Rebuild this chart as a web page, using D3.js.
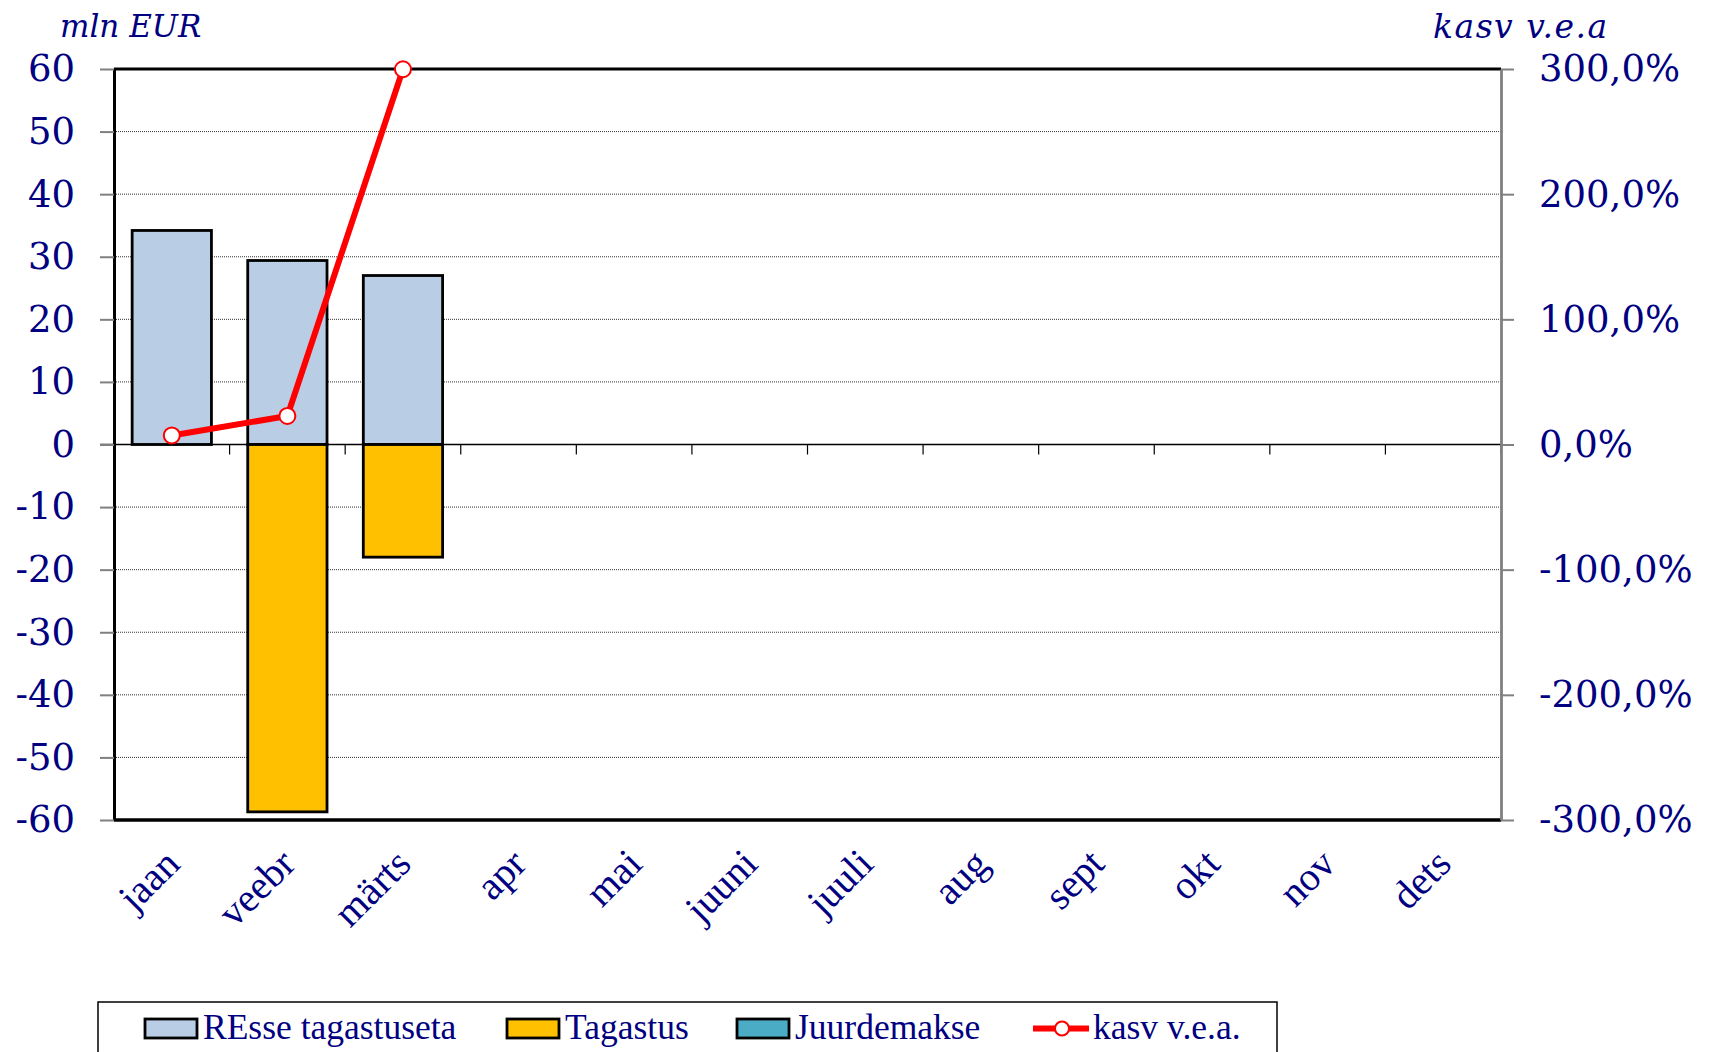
<!DOCTYPE html>
<meta charset="utf-8">
<html>
<script src="https://d3js.org/d3.v7.min.js"></script>
<style>
    body { margin: 0; background: #fff; }
    text { fill: #000080; }
</style>

<body>
    <div id="chart"></div>
    <script>

        // Data
        var months = ["jaan", "veebr", "märts", "apr", "mai", "juuni", "juuli", "aug", "sept", "okt", "nov", "dets"];
        var resseTagastuseta = [34.2, 29.4, 27.0, 0, 0, 0, 0, 0, 0, 0, 0, 0];
        var tagastus = [0, -58.7, -18.0, 0, 0, 0, 0, 0, 0, 0, 0, 0];
        var juurdemakse = [0, 0, 0, 0, 0, 0, 0, 0, 0, 0, 0, 0];
        var kasv = [7.2, 22.8, 299.8];   // percent, only first three months
        var leftTicks = [-60, -50, -40, -30, -20, -10, 0, 10, 20, 30, 40, 50, 60];
        var rightTicks = [-3, -2, -1, 0, 1, 2, 3];
        var seriesNames = ["REsse tagastuseta", "Tagastus", "Juurdemakse", "kasv v.e.a."];
        var seriesColors = ["#B9CDE5", "#FFC000", "#4BACC6", "#FF0000"];

        // Plot area
        var margin = { top: 69, right: 212, bottom: 232, left: 114 },
            W = 1713, H = 1052,
            width = W - margin.left - margin.right,
            height = H - margin.top - margin.bottom;

        var svg = d3.select("#chart")
            .append("svg")
            .attr("width", W)
            .attr("height", H);

        var g = svg.append("g")
            .attr("transform", "translate(" + margin.left + "," + margin.top + ")");

        var locale = d3.formatLocale({ decimal: ",", thousands: " ", grouping: [3], currency: ["", "€"], minus: "-" });
        var fmtLeft = locale.format("d");
        var fmtRight = locale.format(".1%");

        // Scales
        var x = d3.scaleBand()
            .domain(months)
            .range([0, width])
            .paddingInner(0.314)
            .paddingOuter(0.157);

        var y = d3.scaleLinear().domain([-60, 60]).range([height, 0]);
        var y2 = d3.scaleLinear().domain([-3, 3]).range([height, 0]);

        // Gridlines (dotted)
        g.append("g")
            .selectAll("line")
            .data(leftTicks.filter(function (d) { return d !== 0 && Math.abs(d) !== 60; }))
            .enter().append("line")
            .attr("x1", 0).attr("x2", width)
            .attr("y1", function (d) { return y(d); })
            .attr("y2", function (d) { return y(d); })
            .attr("stroke", "#333")
            .attr("stroke-width", 1)
            .attr("stroke-dasharray", "1,1");

        // Stacked bars (diverging)
        var table = months.map(function (m, i) {
            return { month: m, a: resseTagastuseta[i], b: tagastus[i], c: juurdemakse[i] };
        });
        var stack = d3.stack().keys(["a", "b", "c"]).offset(d3.stackOffsetDiverging);
        var layers = stack(table);

        g.selectAll(".layer")
            .data(layers)
            .enter().append("g")
            .attr("class", "layer")
            .attr("fill", function (d, i) { return seriesColors[i]; })
            .selectAll("rect")
            .data(function (d) { return d.filter(function (p) { return p[1] - p[0] !== 0; }); })
            .enter().append("rect")
            .attr("x", function (d) { return x(d.data.month); })
            .attr("width", x.bandwidth())
            .attr("y", function (d) { return y(d[1]); })
            .attr("height", function (d) { return y(d[0]) - y(d[1]); })
            .attr("stroke", "#000")
            .attr("stroke-width", 2.8);

        // Zero line with category ticks
        g.append("line")
            .attr("x1", -14).attr("x2", width)
            .attr("y1", y(0)).attr("y2", y(0))
            .attr("stroke", "#000").attr("stroke-width", 1.5);

        g.append("g")
            .selectAll("line")
            .data(months)
            .enter().append("line")
            .attr("x1", function (d, i) { return (i + 1) * x.step(); })
            .attr("x2", function (d, i) { return (i + 1) * x.step(); })
            .attr("y1", y(0)).attr("y2", y(0) + 10)
            .attr("stroke", "#000").attr("stroke-width", 1.2);

        // Frame top / bottom
        g.append("line")
            .attr("x1", 0).attr("x2", width).attr("y1", 0).attr("y2", 0)
            .attr("stroke", "#000").attr("stroke-width", 2.8);
        g.append("line")
            .attr("x1", 0).attr("x2", width).attr("y1", height).attr("y2", height)
            .attr("stroke", "#000").attr("stroke-width", 3.5);

        // Left axis
        var leftAxis = g.append("g")
            .call(d3.axisLeft(y).tickValues(leftTicks).tickFormat(fmtLeft).tickSize(14).tickSizeOuter(0).tickPadding(25));
        leftAxis.select(".domain").attr("stroke", "#000").attr("stroke-width", 3);
        leftAxis.selectAll(".tick line").attr("stroke", "#808080").attr("stroke-width", 2);
        leftAxis.selectAll(".tick text")
            .style("font-family", "'DejaVu Serif', serif")
            .style("font-size", "37px")
            .attr("fill", "#000080");

        // Right axis
        var rightAxis = g.append("g")
            .attr("transform", "translate(" + width + ",0)")
            .call(d3.axisRight(y2).tickValues(rightTicks).tickFormat(fmtRight).tickSize(13).tickSizeOuter(0).tickPadding(25));
        rightAxis.select(".domain").attr("stroke", "#808080").attr("stroke-width", 2.8);
        rightAxis.selectAll(".tick line").attr("stroke", "#808080").attr("stroke-width", 2);
        rightAxis.selectAll(".tick text")
            .style("font-family", "'DejaVu Serif', serif")
            .style("font-size", "37px")
            .attr("fill", "#000080");

        // X axis labels (rotated)
        var xAxis = g.append("g")
            .attr("transform", "translate(0," + height + ")")
            .call(d3.axisBottom(x).tickSize(0));
        xAxis.select(".domain").remove();
        xAxis.selectAll(".tick text")
            .attr("y", null).attr("dy", null)
            .attr("transform", "translate(10,46) rotate(-45)")
            .style("text-anchor", "end")
            .style("font-family", "'Liberation Serif', serif")
            .style("font-size", "40px")
            .attr("fill", "#000080");

        // kasv line
        var pts = kasv.map(function (v, i) { return { month: months[i], v: v / 100 }; });
        var line = d3.line()
            .x(function (d) { return x(d.month) + x.bandwidth() / 2; })
            .y(function (d) { return y2(d.v); });
        g.append("path")
            .datum(pts)
            .attr("fill", "none")
            .attr("stroke", seriesColors[3])
            .attr("stroke-width", 6)
            .attr("stroke-linejoin", "round")
            .attr("d", line);
        g.selectAll(".dot")
            .data(pts)
            .enter().append("circle")
            .attr("class", "dot")
            .attr("cx", function (d) { return x(d.month) + x.bandwidth() / 2; })
            .attr("cy", function (d) { return y2(d.v); })
            .attr("r", 8)
            .attr("fill", "#fff")
            .attr("stroke", seriesColors[3])
            .attr("stroke-width", 2);

        // Axis titles
        svg.append("text")
            .attr("x", 60).attr("y", 37)
            .style("font-family", "'DejaVu Serif', serif")
            .style("font-style", "italic")
            .style("font-size", "31px")
            .text("mln EUR");
        svg.append("text")
            .attr("x", 1433).attr("y", 38)
            .style("font-family", "'DejaVu Serif', serif")
            .style("font-style", "italic")
            .style("font-size", "33px")
            .style("letter-spacing", "1.5px")
            .text("kasv v.e.a");

        // Legend
        var legend = svg.append("g");
        legend.append("rect")
            .attr("x", 98).attr("y", 1002)
            .attr("width", 1179).attr("height", 80)
            .attr("fill", "#fff")
            .attr("stroke", "#000").attr("stroke-width", 1.5);

        var legendX = [145, 507, 737, 1033];
        var items = legend.selectAll(".item")
            .data(seriesNames)
            .enter().append("g")
            .attr("class", "item")
            .attr("transform", function (d, i) { return "translate(" + legendX[i] + ",1019)"; });

        items.filter(function (d, i) { return i < 3; })
            .append("rect")
            .attr("width", 52).attr("height", 19)
            .attr("fill", function (d, i) { return seriesColors[i]; })
            .attr("stroke", "#000").attr("stroke-width", 2.8);

        var lineItem = items.filter(function (d, i) { return i === 3; });
        lineItem.append("line")
            .attr("x1", 0).attr("x2", 56).attr("y1", 9.5).attr("y2", 9.5)
            .attr("stroke", seriesColors[3]).attr("stroke-width", 6);
        lineItem.append("circle")
            .attr("cx", 29).attr("cy", 9.5).attr("r", 7)
            .attr("fill", "#fff").attr("stroke", seriesColors[3]).attr("stroke-width", 2);

        items.append("text")
            .attr("x", function (d, i) { return i < 3 ? 58 : 60; })
            .attr("y", 20)
            .style("font-family", "'Liberation Serif', serif")
            .style("font-size", "35.5px")
            .text(function (d) { return d; });

    </script>
</body>

</html>
